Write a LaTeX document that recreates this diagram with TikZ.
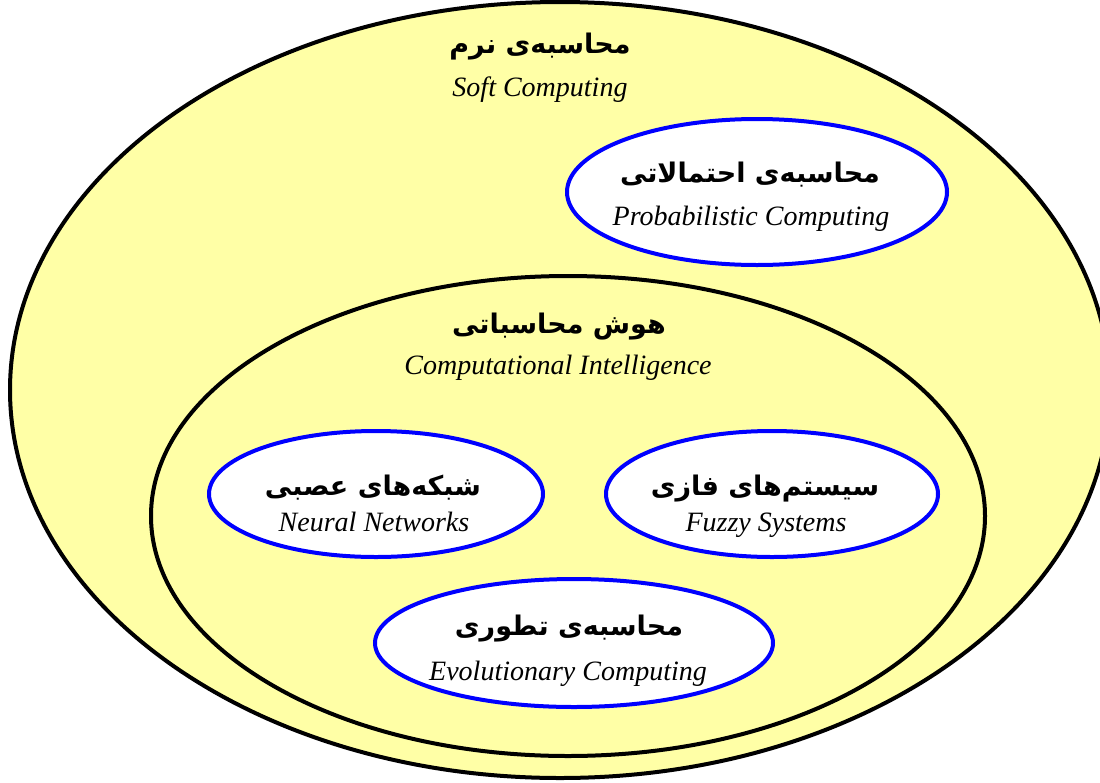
\documentclass[tikz,border=0pt]{standalone}
\usepackage{fontspec}
\setmainfont{Liberation Serif}
\newfontfamily\farsifont[Script=Arabic]{DejaVu Sans}
\TeXXeTstate=1
\usetikzlibrary{shapes.geometric}
\definecolor{softyellow}{RGB}{255,255,166}

\tikzset{
  region/.style={ellipse, draw=black, line width=4pt, fill=softyellow, inner sep=0pt},
  method/.style={ellipse, draw=blue, line width=4pt, fill=white, inner sep=0pt},
  fatitle/.style={anchor=base, inner sep=0pt, font=\farsifont\bfseries\fontsize{27}{31}\selectfont},
  entitle/.style={anchor=base, inner sep=0pt, font=\itshape\fontsize{28}{32}\selectfont},
}

\begin{document}
\begin{tikzpicture}[x=1pt,y=-1pt]

\useasboundingbox (0,0) rectangle (1100,782);
\clip (0,0) rectangle (1100,782);

\coordinate (s) at (560,390);
\coordinate (c) at (568,516);
\coordinate (p) at (757,192);
\coordinate (n) at (376,494);
\coordinate (f) at (772,494);
\coordinate (e) at (574,643);

\node (soft) at (s) [region, minimum width=1100pt, minimum height=776pt] {};
\node (prob) at (p) [method, minimum width=380pt, minimum height=146pt] {};
\node (ci) at (c) [region, minimum width=834pt, minimum height=480pt] {};
\node (neural) at (n) [method, minimum width=334pt, minimum height=126pt] {};
\node (fuzzy) at (f) [method, minimum width=332pt, minimum height=126pt] {};
\node (evol) at (e) [method, minimum width=398pt, minimum height=128pt] {};

\node (softfa) at (540,53) [fatitle] {\beginR محاسبه‌ی نرم\endR};
\node (soften) at (540,96) [entitle] {Soft Computing};

\node (probfa) at (750,182) [fatitle] {\beginR محاسبه‌ی احتمالاتی\endR};
\node (proben) at (751,225) [entitle] {Probabilistic Computing};

\node (cifa) at (559,333) [fatitle] {\beginR هوش محاسباتی\endR};
\node (cien) at (558,374) [entitle] {Computational Intelligence};

\node (neuralfa) at (373,495) [fatitle] {\beginR شبکه‌های عصبی\endR};
\node (neuralen) at (374,531) [entitle] {Neural Networks};

\node (fuzzyfa) at (765,495) [fatitle] {\beginR سیستم‌های فازی\endR};
\node (fuzzyen) at (766,531) [entitle] {Fuzzy Systems};

\node (evolfa) at (569,635) [fatitle] {\beginR محاسبه‌ی تطوری\endR};
\node (evolen) at (568,680) [entitle] {Evolutionary Computing};

\end{tikzpicture}
\end{document}
